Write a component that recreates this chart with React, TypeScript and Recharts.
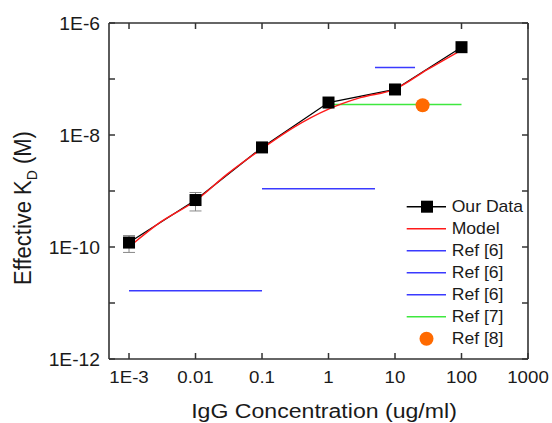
import React from "react";
import { ComposedChart, Line, XAxis, YAxis, ErrorBar, Legend } from "recharts";

const FONT = "'Liberation Sans', Arial, Helvetica, sans-serif";
const AXIS = "#333333";
const TICK = 6;
const STRETCH = 1.1; // the source figure is a little wider than tall

// measured effective KD vs IgG concentration
const concentrations = [0.001, 0.01, 0.1, 1, 10, 100];
const kdValues = [1.2e-10, 6.9e-10, 6.0e-9, 3.8e-8, 6.5e-8, 3.7e-7];
const kdErrors = [4e-11, 2.5e-10, 0, 0, 0, 0];

// model curve
const modelX = [0.001, 0.003, 0.01, 0.03, 0.1, 0.3, 1, 3, 10, 30, 100];
const modelKd = [1.0e-10, 2.8e-10, 6.7e-10, 2.0e-9, 5.7e-9, 1.37e-8, 2.9e-8, 4.65e-8, 6.6e-8, 1.45e-7, 3.3e-7];

// literature values
const ref6Ranges = [[0.001, 0.1], [0.1, 5], [5, 20]];
const ref6Kd = [1.65e-11, 1.1e-9, 1.6e-7];
const ref7Range = [1, 100];
const ref7Kd = 3.5e-8;
const ref8X = 26;
const ref8Kd = 3.4e-8;

const xTicks = [0.001, 0.01, 0.1, 1, 10, 100, 1000];
const xTickLabels = ["1E-3", "0.01", "0.1", "1", "10", "100", "1000"];
const yTicks = [1e-12, 1e-11, 1e-10, 1e-9, 1e-8, 1e-7, 1e-6];
const yTickLabels = ["1E-12", "", "1E-10", "", "1E-8", "", "1E-6"];

const legendNames = ["Our Data", "Model", "Ref [6]", "Ref [6]", "Ref [6]", "Ref [7]", "Ref [8]"];

const ourData = concentrations.map((x, i) => ({ x, y: kdValues[i], err: kdErrors[i] }));
const modelData = modelX.map((x, i) => ({ x, y: modelKd[i] }));
const ref6Data = ref6Ranges.map((r, i) => r.map((x) => ({ x, y: ref6Kd[i] })));
const ref7Data = ref7Range.map((x) => ({ x, y: ref7Kd }));
const ref8Data = [{ x: ref8X, y: ref8Kd }];

const BLUE = "#3a3aff";
const GREEN = "#3ee83e";
const RED = "#ff1a1a";
const ORANGE = "#ff6a00";

const BottomTick = (props: any) => {
  const { x, y, index } = props;
  return (
    <g>
      <line x1={x} y1={y} x2={x} y2={y - TICK} stroke={AXIS} strokeWidth={1.5} />
      <text
        transform={`translate(${x},${y + 24}) scale(${STRETCH},1)`}
        textAnchor="middle"
        fontSize={17}
        fontFamily={FONT}
        fill="#1a1a1a"
      >
        {xTickLabels[index]}
      </text>
    </g>
  );
};

const LeftTick = (props: any) => {
  const { x, y, index } = props;
  return (
    <g>
      <line x1={x} y1={y} x2={x + TICK} y2={y} stroke={AXIS} strokeWidth={1.5} />
      <text
        transform={`translate(${x - 9},${y + 6.5}) scale(${STRETCH},1)`}
        textAnchor="end"
        fontSize={17.5}
        fontFamily={FONT}
        fill="#1a1a1a"
      >
        {yTickLabels[index]}
      </text>
    </g>
  );
};

const TopTick = (props: any) => {
  const { x, y } = props;
  return <line x1={x} y1={y} x2={x} y2={y + TICK} stroke={AXIS} strokeWidth={1.5} />;
};

const RightTick = (props: any) => {
  const { x, y } = props;
  return <line x1={x} y1={y} x2={x - TICK} y2={y} stroke={AXIS} strokeWidth={1.5} />;
};

const SquareDot = (props: any) => {
  const { cx, cy, index } = props;
  if (cx == null || cy == null) return null;
  return <rect key={`sq-${index}`} x={cx - 6} y={cy - 6} width={12} height={12} fill="#000" />;
};

const OrangeDot = (props: any) => {
  const { cx, cy, index } = props;
  if (cx == null || cy == null) return null;
  return <circle key={`or-${index}`} cx={cx} cy={cy} r={7} fill={ORANGE} />;
};

const XTitle = () => (
  <text
    transform={`translate(324,418) scale(${STRETCH},1)`}
    textAnchor="middle"
    fontSize={21}
    fontFamily={FONT}
    fill="#1a1a1a"
  >
    IgG Concentration (ug/ml)
  </text>
);

const YTitle = () => (
  <text
    transform={`translate(31,208) rotate(-90) scale(1,${STRETCH})`}
    textAnchor="middle"
    fontSize={22}
    fontFamily={FONT}
    fill="#1a1a1a"
  >
    Effective K
    <tspan fontSize={14} dy={5}>D</tspan>
    <tspan dy={-5}> (M)</tspan>
  </text>
);

const LegendBox = () => (
  <svg width={150} height={160}>
    {legendNames.map((name, i) => {
      const cy = 11.7 + 22 * i;
      let mark;
      if (i === 0) {
        mark = (
          <g>
            <line x1={6.7} x2={46} y1={cy} y2={cy} stroke="#000" strokeWidth={1.5} />
            <rect x={21} y={cy - 6} width={12} height={12} fill="#000" />
          </g>
        );
      } else if (i === 6) {
        mark = <circle cx={26.5} cy={cy} r={7} fill={ORANGE} />;
      } else {
        const c = i === 1 ? RED : i === 5 ? GREEN : BLUE;
        mark = <line x1={6.7} x2={46} y1={cy} y2={cy} stroke={c} strokeWidth={1.5} />;
      }
      return (
        <g key={`lg-${i}`}>
          {mark}
          <text
            transform={`translate(51.7,${cy + 5.5}) scale(${STRETCH},1)`}
            fontSize={16}
            fontFamily={FONT}
            fill="#1a1a1a"
          >
            {name}
          </text>
        </g>
      );
    })}
  </svg>
);

export default function App() {
  return (
    <div style={{ position: "absolute", left: 0, top: 0 }}>
      <ComposedChart width={552} height={423} margin={{ top: 22, right: 23, bottom: 0, left: 0 }}>
        <XAxis
          dataKey="x"
          type="number"
          scale="log"
          domain={[5e-4, 1000]}
          allowDataOverflow
          ticks={xTicks}
          interval={0}
          tickSize={0}
          tickMargin={0}
          tickLine={false}
          tick={<BottomTick />}
          height={64}
          axisLine={{ stroke: AXIS, strokeWidth: 1.6 }}
          label={<XTitle />}
        />
        <XAxis
          xAxisId="top"
          orientation="top"
          dataKey="x"
          type="number"
          scale="log"
          domain={[5e-4, 1000]}
          allowDataOverflow
          ticks={xTicks}
          interval={0}
          tickSize={0}
          tickMargin={0}
          tickLine={false}
          tick={<TopTick />}
          height={1}
          axisLine={{ stroke: AXIS, strokeWidth: 1.6 }}
        />
        <YAxis
          type="number"
          scale="log"
          domain={[1e-12, 1e-6]}
          allowDataOverflow
          ticks={yTicks}
          interval={0}
          tickSize={0}
          tickMargin={0}
          tickLine={false}
          tick={<LeftTick />}
          width={109}
          axisLine={{ stroke: AXIS, strokeWidth: 1.6 }}
          label={<YTitle />}
        />
        <YAxis
          yAxisId="right"
          orientation="right"
          type="number"
          scale="log"
          domain={[1e-12, 1e-6]}
          allowDataOverflow
          ticks={yTicks}
          interval={0}
          tickSize={0}
          tickMargin={0}
          tickLine={false}
          tick={<RightTick />}
          width={1}
          axisLine={{ stroke: AXIS, strokeWidth: 1.6 }}
        />
        {ref6Data.map((d, i) => (
          <Line
            key={`ref6-${i}`}
            data={d}
            dataKey="y"
            type="linear"
            stroke={BLUE}
            strokeWidth={1.5}
            dot={false}
            isAnimationActive={false}
          />
        ))}
        <Line data={ref7Data} dataKey="y" type="linear" stroke={GREEN} strokeWidth={1.5} dot={false} isAnimationActive={false} />
        <Line
          data={ourData}
          dataKey="y"
          type="linear"
          stroke="#000"
          strokeWidth={1.3}
          dot={<SquareDot />}
          isAnimationActive={false}
        >
          <ErrorBar dataKey="err" direction="y" width={6} stroke="#888" strokeWidth={1} />
        </Line>
        <Line data={modelData} dataKey="y" type="monotone" stroke={RED} strokeWidth={1.5} dot={false} isAnimationActive={false} />
        <Line data={ref8Data} dataKey="y" stroke="none" dot={<OrangeDot />} isAnimationActive={false} />
        <Legend
          layout="vertical"
          align="center"
          verticalAlign="middle"
          wrapperStyle={{ left: 400, top: 195, width: 150, height: 160 }}
          content={() => <LegendBox />}
        />
      </ComposedChart>
    </div>
  );
}
